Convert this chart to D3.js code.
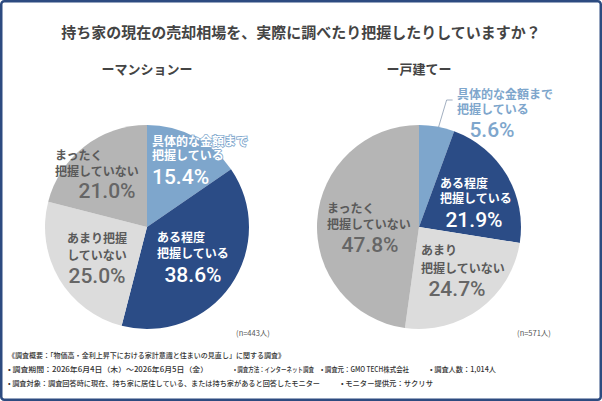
<!DOCTYPE html>
<html>
<head>
<meta charset="utf-8">
<script src="https://cdnjs.cloudflare.com/ajax/libs/d3/7.8.5/d3.min.js"></script>
<style>
  html, body { margin: 0; padding: 0; background: #fff; }
  svg { display: block; font-family: "Noto Sans CJK JP", "Noto Sans", sans-serif; }
</style>
</head>
<body>
<div id="chart"></div>
<script>
// categories, clockwise from 12 o'clock
const categories = ['具体的な金額まで把握している', 'ある程度把握している', 'あまり把握していない', 'まったく把握していない'];
const mansionValues = [15.4, 38.6, 25.0, 21.0];
const houseValues = [5.6, 21.9, 24.7, 47.8];
const mansionLabels = [['具体的な金額まで', '把握している'], ['ある程度', '把握している'], ['あまり把握', 'していない'], ['まったく', '把握していない']];
const houseLabels = [['具体的な金額まで', '把握している'], ['ある程度', '把握している'], ['あまり', '把握していない'], ['まったく', '把握していない']];
const sliceColors = ['#7ea6cc', '#2b4c86', '#dcdcdc', '#b5b5b5'];
const footerLines = [
  ['《調査概要：「物価高・金利上昇下における家計意識と住まいの見直し」に関する調査》'],
  ['• 調査期間：2026年6月4日（木）～2026年6月5日（金）', '• 調査方法：インターネット調査', '• 調査元：GMO TECH株式会社', '• 調査人数：1,014人'],
  ['• 調査対象：調査回答時に現在、持ち家に居住している、または持ち家があると回答したモニター', '• モニター提供元：サクリサ']
];
// footer segment spans [x, width]
const footerSpans = [
  [[8, 277]],
  [[8, 200], [234, 80], [321, 88], [430, 66]],
  [[8, 312], [341, 92]]
];

const W = 602, H = 401, R = 102;

const svg = d3.select('#chart').append('svg')
  .attr('width', W)
  .attr('height', H);

//frame
svg.append('rect')
  .attr('x', 1.25).attr('y', 1.25)
  .attr('width', W - 2.5).attr('height', H - 2.5)
  .attr('rx', 3)
  .attr('fill', '#fff')
  .attr('stroke', '#2d4b80')
  .attr('stroke-width', 2.5);

svg.append('text')
  .attr('x', W / 2).attr('y', 31)
  .attr('text-anchor', 'middle')
  .attr('dominant-baseline', 'central')
  .attr('font-size', 15)
  .attr('font-weight', 700)
  .attr('fill', '#444')
  .text('持ち家の現在の売却相場を、実際に調べたり把握したりしていますか？');

const pie = d3.pie().sort(null).value(d => d);
const arc = d3.arc().innerRadius(0).outerRadius(R);

// label layout relative to pie center: [lineX, anchor, line1Y, line2Y, pctX, pctAnchor, pctY]
const mansionLayout = [
  [5, 'start', -87, -73, 5, 'start', -43],
  [10, 'start', 9, 25, 46, 'middle', 55],
  [-50, 'middle', 10, 27, -50, 'middle', 56],
  [-92, 'start', -73, -57, -40, 'middle', -29]
];
const houseLayout = [
  [38, 'start', -134, -119, 73, 'middle', -90],
  [21, 'start', -45, -30, 55, 'middle', 0],
  [2, 'start', 22, 40, 38, 'middle', 69],
  [-92, 'start', -20, -4, -49, 'middle', 25]
];
const textColors = ['#fff', '#fff', '#5a5a5a', '#5a5a5a'];
const pctColors = ['#fff', '#fff', '#666', '#666'];

function drawPie(cx, cy, title, values, labels, layout, n, nX, outsideFirst) {
  let g = svg.append('g').attr('transform', `translate(${cx},${cy})`);

  g.append('text')
    .attr('x', 0).attr('y', 68 - cy)
    .attr('text-anchor', 'middle')
    .attr('dominant-baseline', 'central')
    .attr('font-size', 13)
    .attr('font-weight', 700)
    .attr('fill', '#444')
    .text(title);

  g.selectAll('path.slice')
    .data(pie(values))
    .join('path')
    .attr('class', 'slice')
    .attr('d', arc)
    .attr('fill', (d, i) => sliceColors[i]);

  values.forEach((v, i) => {
    let L = layout[i];
    let outside = outsideFirst && i === 0;
    let lineFill = outside ? sliceColors[0] : textColors[i];
    let pctFill = outside ? sliceColors[0] : pctColors[i];
    labels[i].forEach((line, k) => {
      let t = g.append('text')
        .attr('x', L[0])
        .attr('y', L[2 + k])
        .attr('text-anchor', L[1])
        .attr('dominant-baseline', 'central')
        .attr('font-size', 12)
        .attr('font-weight', 700)
        .attr('fill', lineFill)
        .text(line);
      if (i === 0 && !outside) {
        t.attr('stroke', sliceColors[0]).attr('stroke-width', 1.6).attr('paint-order', 'stroke');
      }
    });
    g.append('text')
      .attr('x', L[4])
      .attr('y', L[6])
      .attr('text-anchor', L[5])
      .attr('font-family', 'Roboto, sans-serif')
      .attr('font-size', 21)
      .attr('font-weight', 500)
      .attr('fill', pctFill)
      .text(d3.format('.1f')(v) + '%');
  });

  if (outsideFirst) {
    // leader from the small slice to its outside label
    let a = pie(values)[0];
    let mid = a.startAngle + (a.endAngle - a.startAngle) * 0.55;
    let p0 = [Math.sin(mid) * R, -Math.cos(mid) * R];
    g.append('path')
      .attr('d', `M ${p0[0]} ${p0[1]} L ${p0[0] + 8} -127 L ${p0[0] + 14} -127`)
      .attr('fill', 'none')
      .attr('stroke', '#8a9bb0')
      .attr('stroke-width', 0.8);
  }

  g.append('text')
    .attr('x', nX).attr('y', 332 - cy)
    .attr('text-anchor', 'middle')
    .attr('dominant-baseline', 'central')
    .attr('font-size', 7.5)
    .attr('fill', '#555')
    .text(`(n=${n}人)`);
}

drawPie(147, 227, 'ーマンションー', mansionValues, mansionLabels, mansionLayout, 443, 106, false);
drawPie(419, 227, 'ー戸建てー', houseValues, houseLabels, houseLayout, 571, 115, true);

//footer
footerLines.forEach((parts, r) => {
  parts.forEach((p, k) => {
    let span = footerSpans[r][k];
    svg.append('text')
      .attr('x', span[0])
      .attr('y', 355 + r * 14)
      .attr('dominant-baseline', 'central')
      .attr('font-size', 7.2)
      .attr('font-weight', 500)
      .attr('fill', '#333')
      .attr('textLength', span[1])
      .attr('lengthAdjust', 'spacingAndGlyphs')
      .text(p);
  });
});
</script>
</body>
</html>
